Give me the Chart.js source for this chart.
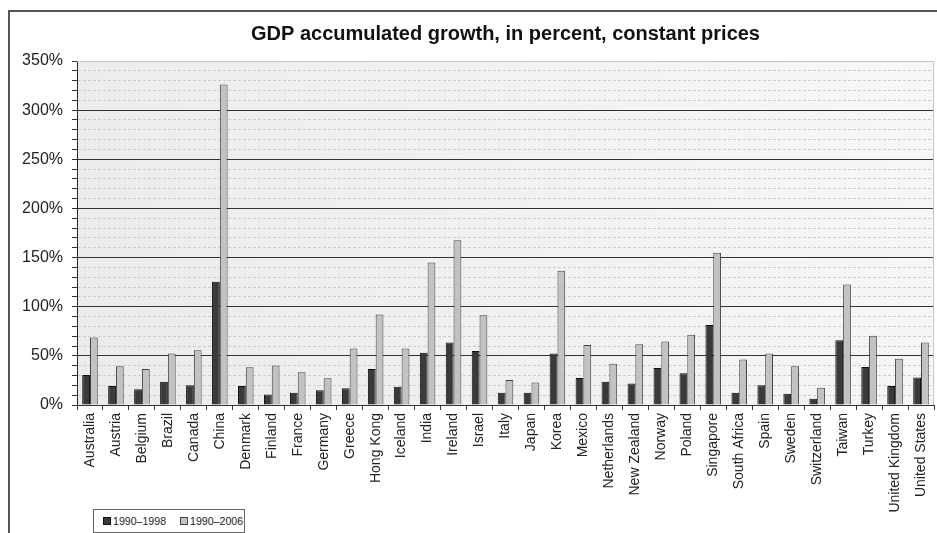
<!DOCTYPE html>
<html>
<head>
<meta charset="utf-8">
<script src="https://cdn.jsdelivr.net/npm/chart.js@4.4.1/dist/chart.umd.min.js"></script>
<style>
  html, body { margin: 0; padding: 0; background: #fff; }
  #wrap { position: relative; width: 937px; height: 533px; }
  #legend {
    position: absolute; left: 93px; top: 509px; width: 150px; height: 22px;
    border: 1px solid #666; background: #fff;
    font: 10.6px "Liberation Sans", Arial, sans-serif; color: #222;
    display: flex; align-items: center; white-space: nowrap;
  }
  #legend span.item { display: inline-flex; align-items: center; margin-left: 9px; }
  #legend span.item + span.item { margin-left: 14px; }
  #legend i { display: inline-block; width: 6px; height: 6px; margin-right: 2px; }
</style>
</head>
<body>
<div id="wrap">
  <canvas id="gdpChart" width="937" height="533"></canvas>
  <div id="legend"></div>
</div>
<script>
// Chart data
const countries = ['Australia', 'Austria', 'Belgium', 'Brazil', 'Canada', 'China', 'Denmark', 'Finland',
    'France', 'Germany', 'Greece', 'Hong Kong', 'Iceland', 'India', 'Ireland', 'Israel', 'Italy', 'Japan',
    'Korea', 'Mexico', 'Netherlands', 'New Zealand', 'Norway', 'Poland', 'Singapore', 'South Africa',
    'Spain', 'Sweden', 'Switzerland', 'Taiwan', 'Turkey', 'United Kingdom', 'United States'];
const growth1998 = [30.5, 19.3, 16, 23.7, 20, 125.3, 19.3, 10.8, 12.5, 14.9, 17, 36.6, 18.6, 53.2, 63.7,
    54.9, 12.5, 12.5, 52.5, 27.4, 23.7, 22, 37.6, 32.2, 81.3, 12.5, 20, 11.5, 6.4, 66, 38.6, 19.3, 28.1];
const growth2006 = [68.8, 39.3, 36.6, 52.5, 55.6, 326, 38.3, 40.3, 33.2, 27.1, 57.6, 92.2, 57.6, 145, 167.7,
    91.2, 25.4, 23, 136.5, 61, 42, 61.7, 64.7, 71.4, 155, 46.4, 52.5, 39.3, 17.6, 122.6, 70.4, 47.1, 63.7];
const seriesNames = ['1990\u20131998', '1990\u20132006'];
const yTicks = [0, 50, 100, 150, 200, 250, 300, 350];

const FONT = '"Liberation Sans", Arial, sans-serif';

// Plot background, frame and plot border
const decorPlugin = {
    id: 'decor',
    beforeDraw(chart) {
        const { ctx, chartArea: a } = chart;
        ctx.save();
        const g = ctx.createLinearGradient(a.left, a.bottom, a.right, a.top);
        g.addColorStop(0, '#ebebeb');
        g.addColorStop(1, '#f7f7f7');
        ctx.fillStyle = g;
        ctx.fillRect(a.left, a.top, a.right - a.left, a.bottom - a.top);
        // outer frame (top and left visible)
        ctx.strokeStyle = '#555';
        ctx.lineWidth = 2;
        ctx.beginPath();
        ctx.moveTo(9, 540);
        ctx.lineTo(9, 11);
        ctx.lineTo(945, 11);
        ctx.stroke();
        ctx.restore();
    },
    afterDatasetsDraw(chart) {
        const { ctx, chartArea: a } = chart;
        ctx.save();
        ctx.strokeStyle = '#c4c4c4';
        ctx.lineWidth = 1;
        ctx.beginPath();
        ctx.moveTo(a.left, a.top + 0.5);
        ctx.lineTo(a.right - 0.5, a.top + 0.5);
        ctx.lineTo(a.right - 0.5, a.bottom);
        ctx.stroke();
        ctx.restore();
    }
};

const ctx = document.getElementById('gdpChart').getContext('2d');

let gdpChart = new Chart(ctx, {
    type: 'bar',
    data: {
        labels: countries,
        datasets: [{
            label: seriesNames[0],
            data: growth1998,
            backgroundColor: '#3a3a3a',
            borderColor: '#111',
            borderWidth: 1
        }, {
            label: seriesNames[1],
            data: growth2006,
            backgroundColor: '#c2c2c2',
            borderColor: '#444',
            borderWidth: 1
        }]
    },
    options: {
        responsive: false,
        animation: false,
        layout: { padding: { left: 0, right: 3, top: 0, bottom: 0 } },
        categoryPercentage: 0.6,
        barPercentage: 1,
        plugins: {
            legend: { display: false },
            tooltip: { enabled: false },
            title: {
                display: true,
                fullSize: false,
                text: 'GDP accumulated growth, in percent, constant prices',
                color: '#111',
                font: { family: FONT, size: 20, weight: 'bold', lineHeight: 1.2 },
                padding: { top: 22, bottom: 15 }
            }
        },
        scales: {
            x: {
                afterFit(scale) {
                    scale.height = 128;
                    scale.paddingLeft = 0;
                    scale.paddingRight = 0;
                },
                grid: {
                    offset: true,
                    drawOnChartArea: false,
                    drawTicks: true,
                    tickLength: 5,
                    tickColor: '#333'
                },
                border: { color: '#333', width: 1 },
                ticks: {
                    autoSkip: false,
                    maxRotation: 90,
                    minRotation: 90,
                    padding: 3,
                    color: '#222',
                    font: { family: FONT, size: 14 }
                }
            },
            y: {
                min: 0,
                max: 350,
                afterFit(scale) { scale.width = 77; },
                grid: {
                    color: c => {
                        const v = c.tick ? c.tick.value : 0;
                        if (v === 350) return '#c4c4c4';
                        if (v % 50 === 0) return '#333';
                        return '#cdcdcd';
                    },
                    tickColor: '#333',
                    tickLength: 5,
                    lineWidth: 1
                },
                border: {
                    color: '#222',
                    width: 1,
                    dash: c => {
                        const v = c.tick ? c.tick.value : 0;
                        return v % 50 === 0 ? [] : [3, 2];
                    }
                },
                ticks: {
                    stepSize: 10,
                    autoSkip: false,
                    padding: 9,
                    color: '#222',
                    font: { family: FONT, size: 16 },
                    callback: v => (yTicks.includes(v) ? v + '%' : '')
                }
            }
        }
    },
    plugins: [decorPlugin]
});

// Legend built from the datasets
const legendEl = document.getElementById('legend');
gdpChart.data.datasets.forEach(ds => {
    const item = document.createElement('span');
    item.className = 'item';
    const box = document.createElement('i');
    box.style.background = ds.backgroundColor;
    box.style.border = '1px solid ' + ds.borderColor;
    item.appendChild(box);
    item.appendChild(document.createTextNode(ds.label));
    legendEl.appendChild(item);
});
</script>
</body>
</html>
